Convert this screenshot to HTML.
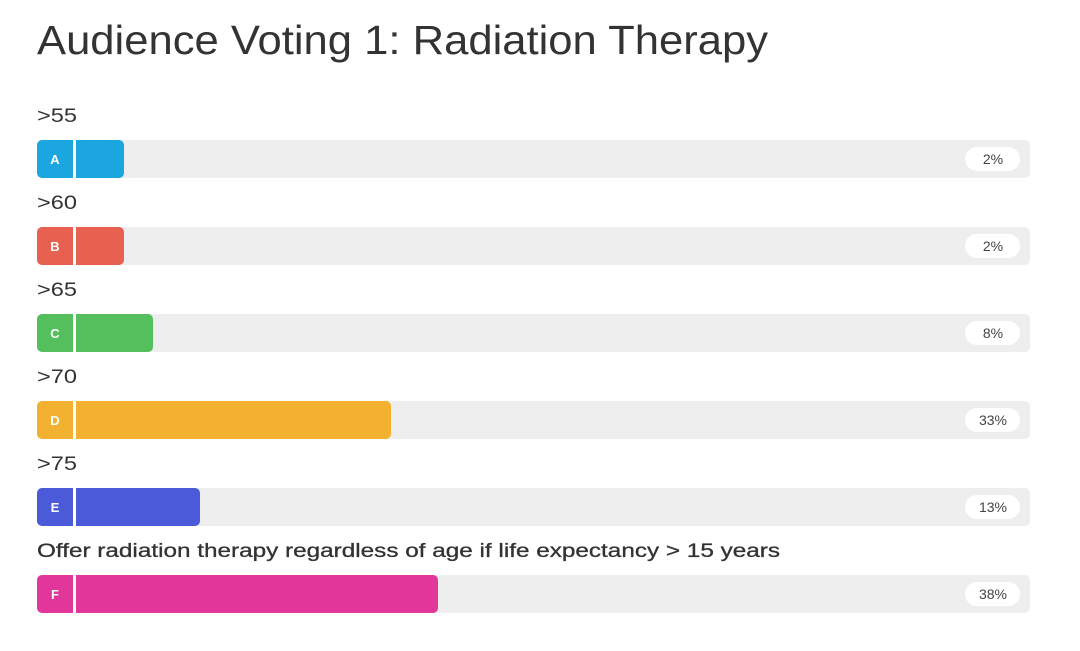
<!DOCTYPE html>
<html><head><style>body{margin:0;background:#fff}svg{display:block}</style></head><body>
<svg width="1080" height="651" xmlns="http://www.w3.org/2000/svg" font-family="Liberation Sans, sans-serif">
<rect width="1080" height="651" fill="#fff"/>
<text x="37" y="54" font-size="41" fill="#333" textLength="731" lengthAdjust="spacingAndGlyphs">Audience Voting 1: Radiation Therapy</text>
<g font-size="19" fill="#333">
<text x="37" y="122" textLength="40" lengthAdjust="spacingAndGlyphs">&gt;55</text>
<text x="37" y="209" textLength="40" lengthAdjust="spacingAndGlyphs">&gt;60</text>
<text x="37" y="296" textLength="40" lengthAdjust="spacingAndGlyphs">&gt;65</text>
<text x="37" y="383" textLength="40" lengthAdjust="spacingAndGlyphs">&gt;70</text>
<text x="37" y="470" textLength="40" lengthAdjust="spacingAndGlyphs">&gt;75</text>
<text x="37" y="557" textLength="743" lengthAdjust="spacingAndGlyphs" stroke="#333" stroke-width="0.3">Offer radiation therapy regardless of age if life expectancy &gt; 15 years</text>
</g>
<g>
<rect x="37" y="140" width="993" height="38" rx="5" fill="#eeeeee"/>
<rect x="37" y="140" width="87" height="38" rx="5" fill="#1ba6e0"/>
<rect x="37" y="227" width="993" height="38" rx="5" fill="#eeeeee"/>
<rect x="37" y="227" width="87" height="38" rx="5" fill="#e8604f"/>
<rect x="37" y="314" width="993" height="38" rx="5" fill="#eeeeee"/>
<rect x="37" y="314" width="116" height="38" rx="5" fill="#54bf5c"/>
<rect x="37" y="401" width="993" height="38" rx="5" fill="#eeeeee"/>
<rect x="37" y="401" width="354" height="38" rx="5" fill="#f2b131"/>
<rect x="37" y="488" width="993" height="38" rx="5" fill="#eeeeee"/>
<rect x="37" y="488" width="163" height="38" rx="5" fill="#4b5ad9"/>
<rect x="37" y="575" width="993" height="38" rx="5" fill="#eeeeee"/>
<rect x="37" y="575" width="401" height="38" rx="5" fill="#e2369b"/>
</g>
<g fill="#fff">
<rect x="73" y="140" width="3" height="38"/><rect x="73" y="227" width="3" height="38"/>
<rect x="73" y="314" width="3" height="38"/><rect x="73" y="401" width="3" height="38"/>
<rect x="73" y="488" width="3" height="38"/><rect x="73" y="575" width="3" height="38"/>
<rect x="965" y="147" width="55" height="24" rx="12"/><rect x="965" y="234" width="55" height="24" rx="12"/>
<rect x="965" y="321" width="55" height="24" rx="12"/><rect x="965" y="408" width="55" height="24" rx="12"/>
<rect x="965" y="495" width="55" height="24" rx="12"/><rect x="965" y="582" width="55" height="24" rx="12"/>
</g>
<g font-size="13" fill="#fff" font-weight="bold" text-anchor="middle">
<text x="55" y="164">A</text><text x="55" y="251">B</text><text x="55" y="338">C</text>
<text x="55" y="425">D</text><text x="55" y="512">E</text><text x="55" y="599">F</text>
</g>
<g font-size="14" fill="#444" text-anchor="middle">
<text x="993" y="164">2%</text><text x="993" y="251">2%</text><text x="993" y="338">8%</text>
<text x="993" y="425">33%</text><text x="993" y="512">13%</text><text x="993" y="599">38%</text>
</g>
</svg>
</body></html>
